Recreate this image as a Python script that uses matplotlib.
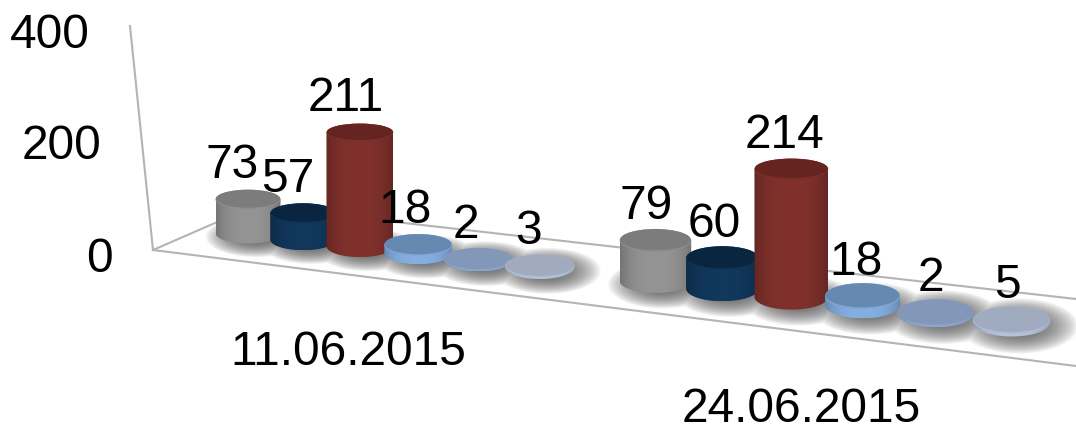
import numpy as np
import matplotlib.pyplot as plt
from matplotlib.colors import to_rgb
from matplotlib.patches import Ellipse, PathPatch
from matplotlib.path import Path

dates = ["11.06.2015", "24.06.2015"]
values_first = [73, 57, 211, 18, 2, 3]
values_second = [79, 60, 214, 18, 2, 5]
tick_values = [0, 200, 400]

side_colors = ["#8e8e8e", "#103559", "#7b2f2a", "#7fa8d8", "#8aa3c8", "#aebcd4"]
top_colors = ["#7c7c7c", "#0a2540", "#652420", "#6689b2", "#8397b8", "#a1abc0"]

plt.rcParams["font.family"] = ["Liberation Sans", "DejaVu Sans"]
W, H = 1076, 427
LABEL_SIZE = 34.5


# fake 3d camera: slot along the date axis -> pixels
def slot_x(t):
    return (248 + 51.1 * t) / (1 - 0.01345 * t)


def slot_scale(t):
    return 1 / (1 - 0.01345 * t)


def floor_y(x):
    return 205.2 + 0.117 * x


def flatness(y):
    return 0.2 + 0.0005 * y


def top_y(t, value):
    # taller bars stretch a little more towards the camera
    return floor_y(slot_x(t)) - value * (0.43 + 0.00045 * value) * slot_scale(t)


def draw_cylinder(ax, t, value, side, top, z):
    x = slot_x(t)
    rx = 32.5 * slot_scale(t)
    base = floor_y(x)
    y_top = top_y(t, value)
    ry_base = rx * flatness(base)
    ry_top = rx * flatness(y_top)

    # body outline, lower half ellipse + sides
    a = np.linspace(np.pi, 0, 40)
    xs = x + rx * np.cos(a)
    ys = base + ry_base * np.sin(a)
    pts = [(x - rx, y_top)] + list(zip(xs, ys)) + [(x + rx, y_top), (x - rx, y_top)]
    body = PathPatch(Path(pts), fc="none", ec="none", zorder=z)
    ax.add_patch(body)

    # dark edges, lighter middle
    c = np.array(to_rgb(side))
    u = np.linspace(-1, 1, 64)
    shade = 1.04 - 0.22 * np.abs(u) ** 3
    img = np.clip(c[None, None, :] * shade[None, :, None], 0, 1)
    im = ax.imshow(img, extent=[x - rx, x + rx, base + ry_base, y_top - 1],
                   aspect="auto", interpolation="bilinear", zorder=z)
    im.set_clip_path(body)

    ax.add_patch(Ellipse((x, y_top), 2 * rx, 2 * ry_top, fc=side, ec="none", zorder=z + 0.1))
    ax.add_patch(Ellipse((x, y_top - 0.7), 2 * rx * 0.99, 2 * ry_top * 0.92, fc=top, ec="none", zorder=z + 0.2))


def shadow_layer(ax, slots):
    yy, xx = np.mgrid[0:H, 0:W]
    alpha = np.zeros((H, W))
    for t in slots:
        x = slot_x(t)
        rx = 32.5 * slot_scale(t)
        base = floor_y(x)
        d = ((xx - x - 7) / (rx * 1.55)) ** 2 + ((yy - base - 3) / (rx * flatness(base) * 2.0)) ** 2
        alpha = np.maximum(alpha, np.clip(1 - d, 0, 1) ** 0.9)
    rgba = np.zeros((H, W, 4))
    rgba[..., :3] = 0.42
    rgba[..., 3] = alpha
    ax.imshow(rgba, extent=[0, W, H, 0], aspect="auto", interpolation="bilinear", zorder=1)


fig = plt.figure(figsize=(W / 100, H / 100), dpi=100)
ax = fig.add_axes([0, 0, 1, 1])

# wall and floor frame
frame = "#b4b4b4"
ax.plot([130, 153], [27, 251], color=frame, lw=1.5, zorder=0.5)
ax.plot([153, 254], [251, 207], color=frame, lw=1.5, zorder=0.5)
ax.plot([254, W], [207, 300], color=frame, lw=1.5, zorder=0.5)
ax.plot([153, W], [251, 367], color=frame, lw=1.5, zorder=0.5)

slots_first = np.arange(len(values_first), dtype=float)
slots_second = slots_first + 6.8
shadow_layer(ax, list(slots_first) + list(slots_second))

z = 2
for slots, values in [(slots_first, values_first), (slots_second, values_second)]:
    for i, (t, v) in enumerate(zip(slots, values)):
        draw_cylinder(ax, t, v, side_colors[i], top_colors[i], z)
        z += 1

# value labels
for slots, values in [(slots_first, values_first), (slots_second, values_second)]:
    for t, v in zip(slots, values):
        x = slot_x(t)
        ax.text(x - 20 + 0.016 * x, top_y(t, v) - 40, str(v), ha="center", va="center_baseline",
                fontsize=LABEL_SIZE, color="black", zorder=50)

# value axis labels follow the wall line
for v in tick_values:
    wall_x = 153 - 23 * v / 400
    wall_y = 251 - 224 * v / 400
    ax.text(wall_x - 40, wall_y + 3, str(v), ha="right", va="center_baseline",
            fontsize=LABEL_SIZE, color="black", zorder=50)

# date labels under each group
for slots, label in zip([slots_first, slots_second], dates):
    x = slot_x(slots.mean())
    ax.text(x - 41 + 0.0366 * (x - 389), floor_y(x) + 97 + 0.012 * (x - 389), label,
            ha="center", va="center_baseline", fontsize=LABEL_SIZE, color="black", zorder=50)

ax.set_xlim(0, W)
ax.set_ylim(H, 0)
ax.axis("off")
fig.savefig("out.png", dpi=100)
